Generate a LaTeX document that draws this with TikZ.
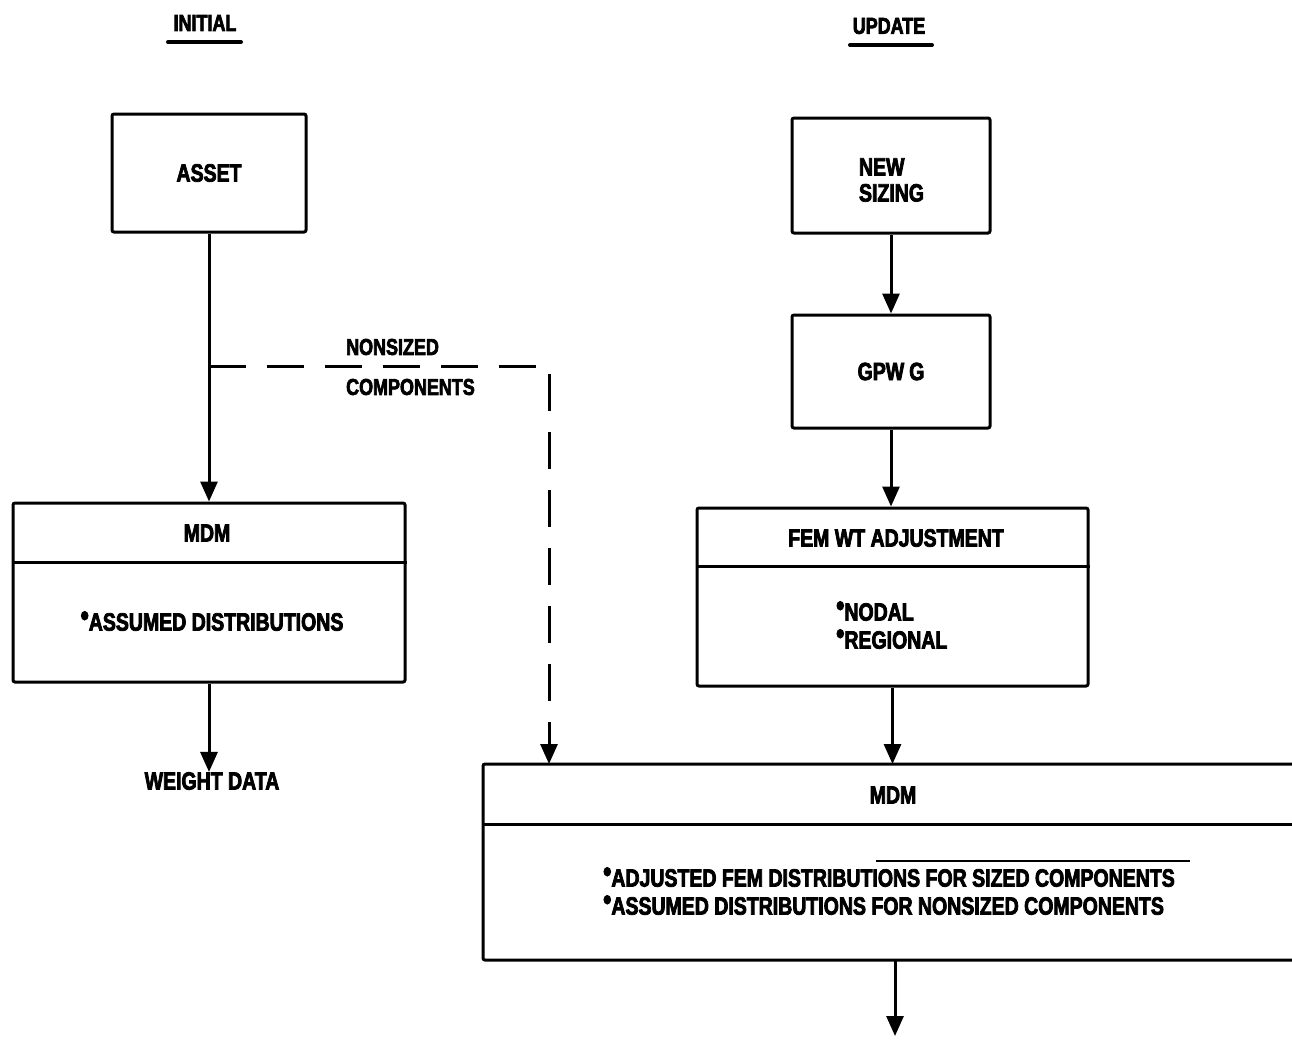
\documentclass[tikz,border=0pt]{standalone}
\usepackage{fontspec}
\setmainfont{Liberation Sans}[FakeStretch=0.78, BoldFeatures={FakeBold=3}]
\usetikzlibrary{arrows.meta}
% raised bullet used in the box bodies
\newcommand\bdot{\smash{\raisebox{5pt}{\fontsize{30}{30}\selectfont\textbullet}}}
\begin{document}
\begin{tikzpicture}[x=1pt,y=1pt,
  every node/.style={font=\bfseries\fontsize{25}{26}\selectfont, inner sep=0pt},
  box/.style={draw, line width=3pt, rounded corners=2pt},
  flow/.style={line width=3pt, -{Triangle[width=17pt,length=20pt]}},
  dashflow/.style={flow, dash pattern=on 37pt off 21pt},
  divider/.style={line width=3pt},
  heading/.style={font=\bfseries\fontsize{23}{24}\selectfont},
  smalltext/.style={font=\bfseries\fontsize{23}{40}\selectfont, align=left},
  rule/.style={line width=4pt, line cap=round}
]
\useasboundingbox (0,0) rectangle (1292,-1039);

% column headings
\node[heading] (hinit) at (205,-23) {INITIAL};
\node[heading] (hupd) at (889,-26) {UPDATE};
\draw[rule] (168,-42) -- (241,-42);
\draw[rule] (850,-45) -- (932,-45);

% initial column
\node[box, minimum width=194, minimum height=118] (asset) at (209,-173) {ASSET};
\node[box, minimum width=392, minimum height=179] (mdma) at (209,-592.5) {};
\node (mdmat) at (207,-533) {MDM};
\node (mdmab) at (212,-622) {\bdot ASSUMED DISTRIBUTIONS};
\draw[divider] (mdma.west |- 0,-562) -- (mdma.east |- 0,-562);
\node (wdata) at (212,-781) {WEIGHT DATA};

% update column
\node[box, minimum width=198, minimum height=115] (newsz) at (891,-175.5) {};
\node[align=left, font=\bfseries\fontsize{25}{26}\selectfont] (newszt) at (891.5,-180) {NEW\\SIZING};
\node[box, minimum width=198, minimum height=113] (gpwg) at (891,-371.5) {GPW\hspace{5pt}G};
\node[box, minimum width=391, minimum height=178] (fem) at (892.5,-597) {};
\node (femt) at (896,-538) {FEM WT ADJUSTMENT};
\draw[divider] (fem.west |- 0,-566) -- (fem.east |- 0,-566);
\node[anchor=west, align=left, font=\bfseries\fontsize{25}{28}\selectfont] (femb) at (836,-626) {\bdot NODAL\\\bdot REGIONAL};

% final mass distribution box, open to the right
\node[minimum width=809, minimum height=196, outer sep=0pt] (mdmb) at (887.5,-862) {};
\draw[box] (mdmb.north east) -- (mdmb.north west) -- (mdmb.south west) -- (mdmb.south east);
\draw[divider] (mdmb.west |- 0,-824) -- (mdmb.east |- 0,-824);
\node (mdmbt) at (893,-795) {MDM};
\node[anchor=west, align=left, font=\bfseries\fontsize{25}{28}\selectfont] (mdmbb) at (603,-892)
  {\bdot ADJUSTED FEM DISTRIBUTIONS FOR SIZED COMPONENTS\\\bdot ASSUMED DISTRIBUTIONS FOR NONSIZED COMPONENTS};
\draw[line width=1.2pt] (876,-861) -- (1190,-861);

% connectors
\coordinate (jn) at (209,-366);
\coordinate (out) at (895,-1036);
\draw[flow] (asset.south) -- (mdma.north);
\draw[flow] (mdma.south) -- (mdma.south |- wdata.north);
\draw[dashflow] (jn) -| (549,-764);
\node[smalltext, anchor=west] (nsc) at (346,-367) {NONSIZED\\COMPONENTS};
\draw[flow] (newsz.south) -- (newsz.south |- gpwg.north);
\draw[flow] (gpwg.south) -- (gpwg.south |- fem.north);
\draw[flow] (fem.south) -- (fem.south |- mdmb.north);
\draw[flow] (895,-960) -- (out);
\end{tikzpicture}
\end{document}
